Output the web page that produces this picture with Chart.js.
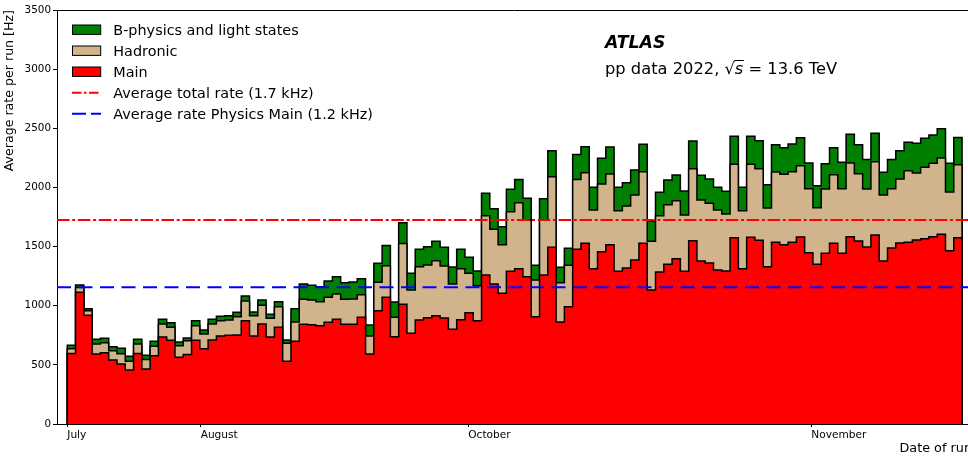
<!DOCTYPE html>
<html>
<head>
<meta charset="utf-8">
<script src="https://cdn.jsdelivr.net/npm/chart.js@4.4.0/dist/chart.umd.min.js"></script>
<style>
  html, body { margin: 0; padding: 0; background: #fff; overflow: hidden; }
  #wrap { position: relative; width: 972px; height: 456px; }
</style>
</head>
<body>
<div id="wrap"><canvas id="rateChart"></canvas></div>
<script>
// average rate per run [Hz], one entry per run
const mainRate = [
  597, 1113, 919, 592, 603, 541, 507, 457, 597, 465,
  577, 735, 708, 564, 588, 708, 637, 710, 744, 750,
  753, 873, 744, 845, 735, 817, 530, 699, 843, 840,
  831, 860, 885, 843, 843, 902, 592, 958, 1071, 738,
  1013, 767, 879, 899, 916, 896, 800, 882, 941, 873,
  1260, 1184, 1105, 1291, 1313, 1245, 907, 1260, 1494, 862,
  992, 1477, 1528, 1313, 1457, 1516, 1291, 1319, 1386, 1528,
  1133, 1285, 1350, 1398, 1291, 1550, 1378, 1361, 1302, 1293,
  1575, 1313, 1578, 1553, 1330, 1536, 1516, 1536, 1581, 1448,
  1350, 1443, 1528, 1443, 1584, 1547, 1496, 1598, 1378, 1488,
  1530, 1536, 1556, 1567, 1584, 1604, 1465, 1575
];
const hadronicRate = [
  40, 42, 39, 84, 84, 79, 87, 73, 79, 80,
  80, 110, 110, 98, 116, 123, 124, 135, 129, 129,
  154, 167, 172, 158, 158, 175, 152, 163, 211, 208,
  203, 211, 214, 211, 214, 191, 152, 240, 267, 164,
  514, 366, 451, 445, 465, 440, 384, 431, 333, 296,
  501, 462, 411, 504, 558, 480, 310, 465, 597, 333,
  350, 589, 597, 496, 572, 598, 512, 524, 550, 605,
  412, 476, 504, 490, 476, 608, 515, 505, 507, 482,
  620, 490, 617, 605, 496, 594, 595, 597, 603, 541,
  479, 544, 580, 546, 622, 569, 491, 620, 558, 501,
  541, 605, 566, 603, 620, 645, 496, 617
];
const bphysRate = [
  28, 20, 17, 40, 38, 34, 46, 42, 40, 36,
  42, 40, 39, 31, 23, 42, 34, 40, 37, 37,
  38, 42, 31, 45, 34, 42, 28, 113, 130, 124,
  127, 138, 146, 141, 143, 135, 93, 160, 172, 129,
  175, 141, 147, 155, 164, 158, 143, 164, 135, 124,
  189, 174, 152, 189, 197, 183, 125, 180, 220, 130,
  143, 212, 219, 192, 217, 228, 198, 197, 211, 232,
  169, 198, 209, 217, 203, 234, 209, 205, 192, 192,
  237, 198, 237, 237, 197, 231, 225, 234, 236, 217,
  186, 214, 228, 223, 243, 245, 250, 239, 192, 248,
  240, 240, 251, 245, 239, 248, 243, 231
];
const monthLabels = ["July", "August", "October", "November"];
const monthStartRun = [0, 16.1, 48.4, 89.8];
const avgTotalRate = 1725;
const avgMainRate = 1156;

const nRuns = mainRate.length;
const xMin = -1.24, xMax = 109.2;

const hadTop = mainRate.map((v, i) => v + hadronicRate[i]);
const allTop = hadTop.map((v, i) => v + bphysRate[i]);

// step outline: value of run i is held over [i, i+1], closed down to 0 at both ends
function stepPoints(vals) {
  const pts = [{ x: 0, y: 0 }];
  vals.forEach((v, i) => pts.push({ x: i, y: v }));
  pts.push({ x: vals.length, y: vals[vals.length - 1] });
  pts.push({ x: vals.length, y: 0 });
  return pts;
}

const FONT = "'DejaVu Sans', sans-serif";

const legendItems = [
  { label: "B-physics and light states", color: "#008000", box: true },
  { label: "Hadronic", color: "#d2b48c", box: true },
  { label: "Main", color: "#ff0000", box: true },
  { label: "Average total rate (1.7 kHz)", color: "#ff0000", dash: [9.5, 2.5, 2.5, 2.5] },
  { label: "Average rate Physics Main (1.2 kHz)", color: "#0000ff", dash: [14, 5] },
];

const overlay = {
  id: "overlay",
  afterDraw(chart) {
    const ctx = chart.ctx;
    const a = chart.chartArea;
    ctx.save();
    ctx.strokeStyle = "#000";
    ctx.lineWidth = 1;
    ctx.beginPath();
    ctx.moveTo(a.left, a.top + 0.5);
    ctx.lineTo(a.right, a.top + 0.5);
    ctx.stroke();

    // legend
    ctx.font = "14.4px " + FONT;
    ctx.textBaseline = "alphabetic";
    legendItems.forEach((it, k) => {
      const cy = 29.7 + 21 * k;
      if (it.box) {
        ctx.fillStyle = it.color;
        ctx.fillRect(72, cy - 4.7, 28.7, 9.4);
        ctx.strokeStyle = "#000";
        ctx.lineWidth = 1;
        ctx.setLineDash([]);
        ctx.strokeRect(72.5, cy - 4.7, 28.2, 9.4);
      } else {
        ctx.strokeStyle = it.color;
        ctx.lineWidth = 2;
        ctx.setLineDash(it.dash);
        ctx.beginPath();
        ctx.moveTo(72, cy);
        ctx.lineTo(101, cy);
        ctx.stroke();
        ctx.setLineDash([]);
      }
      ctx.fillStyle = "#000";
      ctx.fillText(it.label, 113.3, cy + 5);
    });

    // ATLAS label
    ctx.fillStyle = "#000";
    ctx.font = "italic bold 17.3px " + FONT;
    ctx.fillText("ATLAS", 605, 47.5);

    let x = 605;
    const y = 73.5;
    ctx.font = "16.3px " + FONT;
    ctx.fillText("pp data 2022, ", x, y);
    x += ctx.measureText("pp data 2022, ").width;
    ctx.fillText("\u221A", x, y);
    x += ctx.measureText("\u221A").width;
    ctx.font = "italic 16.3px " + FONT;
    const sw = ctx.measureText("s").width;
    ctx.fillText("s", x, y);
    ctx.lineWidth = 1;
    ctx.strokeStyle = "#000";
    ctx.beginPath();
    ctx.moveTo(x - 0.5, y - 13);
    ctx.lineTo(x + sw + 0.5, y - 13);
    ctx.stroke();
    x += sw;
    ctx.font = "16.3px " + FONT;
    ctx.fillText(" = 13.6 TeV", x, y);
    ctx.restore();
  }
};

const ctx = document.getElementById("rateChart").getContext("2d");

const rateChart = new Chart(ctx, {
  type: "line",
  data: {
    datasets: [
      {
        label: "Average total rate (1.7 kHz)",
        data: [{ x: xMin, y: avgTotalRate }, { x: xMax, y: avgTotalRate }],
        borderColor: "#ff0000",
        borderWidth: 2,
        borderDash: [12.5, 2.7, 3, 2.7],
        fill: false,
        order: 0,
      },
      {
        label: "Average rate Physics Main (1.2 kHz)",
        data: [{ x: xMin, y: avgMainRate }, { x: xMax, y: avgMainRate }],
        borderColor: "#0000ff",
        borderWidth: 2,
        borderDash: [14, 7.5],
        fill: false,
        order: 0,
      },
      {
        label: "Main",
        data: stepPoints(mainRate),
        backgroundColor: "#ff0000",
        borderColor: "#000",
        borderWidth: 1.5,
        stepped: "before",
        fill: "origin",
        order: 1,
      },
      {
        label: "Hadronic",
        data: stepPoints(hadTop),
        backgroundColor: "#d2b48c",
        borderColor: "#000",
        borderWidth: 1.5,
        stepped: "before",
        fill: "origin",
        order: 2,
      },
      {
        label: "B-physics and light states",
        data: stepPoints(allTop),
        backgroundColor: "#008000",
        borderColor: "#000",
        borderWidth: 1.5,
        stepped: "before",
        fill: "origin",
        order: 3,
      },
    ],
  },
  options: {
    responsive: true,
    maintainAspectRatio: false,
    animation: false,
    devicePixelRatio: 1,
    layout: { padding: { top: 10, right: 0, left: 0, bottom: 0 } },
    elements: { point: { radius: 0 }, line: { tension: 0 } },
    plugins: { legend: { display: false }, tooltip: { enabled: false } },
    scales: {
      x: {
        type: "linear",
        min: xMin,
        max: xMax,
        afterBuildTicks: (s) => { s.ticks = monthStartRun.map((v) => ({ value: v })); },
        afterFit: (s) => { s.height = 32; },
        ticks: {
          autoSkip: false,
          maxRotation: 0,
          align: "start",
          padding: 2,
          color: "#000",
          font: { family: FONT, size: 10.6 },
          callback: (v, i) => monthLabels[i],
        },
        grid: { drawOnChartArea: false, color: "#000", tickLength: 3 },
        border: { display: true, color: "#000", width: 1 },
        title: {
          display: true,
          text: "Date of run",
          align: "end",
          color: "#000",
          font: { family: FONT, size: 12.8 },
          padding: { top: 0, bottom: 0 },
        },
      },
      y: {
        min: 0,
        max: 3500,
        afterFit: (s) => { s.width = 57; },
        ticks: {
          stepSize: 500,
          padding: 2,
          color: "#000",
          font: { family: FONT, size: 10.4 },
          callback: (v) => String(v),
        },
        grid: { drawOnChartArea: false, color: "#000", tickLength: 4 },
        border: { display: true, color: "#000", width: 1 },
        title: {
          display: true,
          text: "Average rate per run [Hz]",
          align: "end",
          color: "#000",
          font: { family: FONT, size: 12.6 },
          padding: { top: 2, bottom: 0 },
        },
      },
    },
  },
  plugins: [overlay],
});
</script>
</body>
</html>
